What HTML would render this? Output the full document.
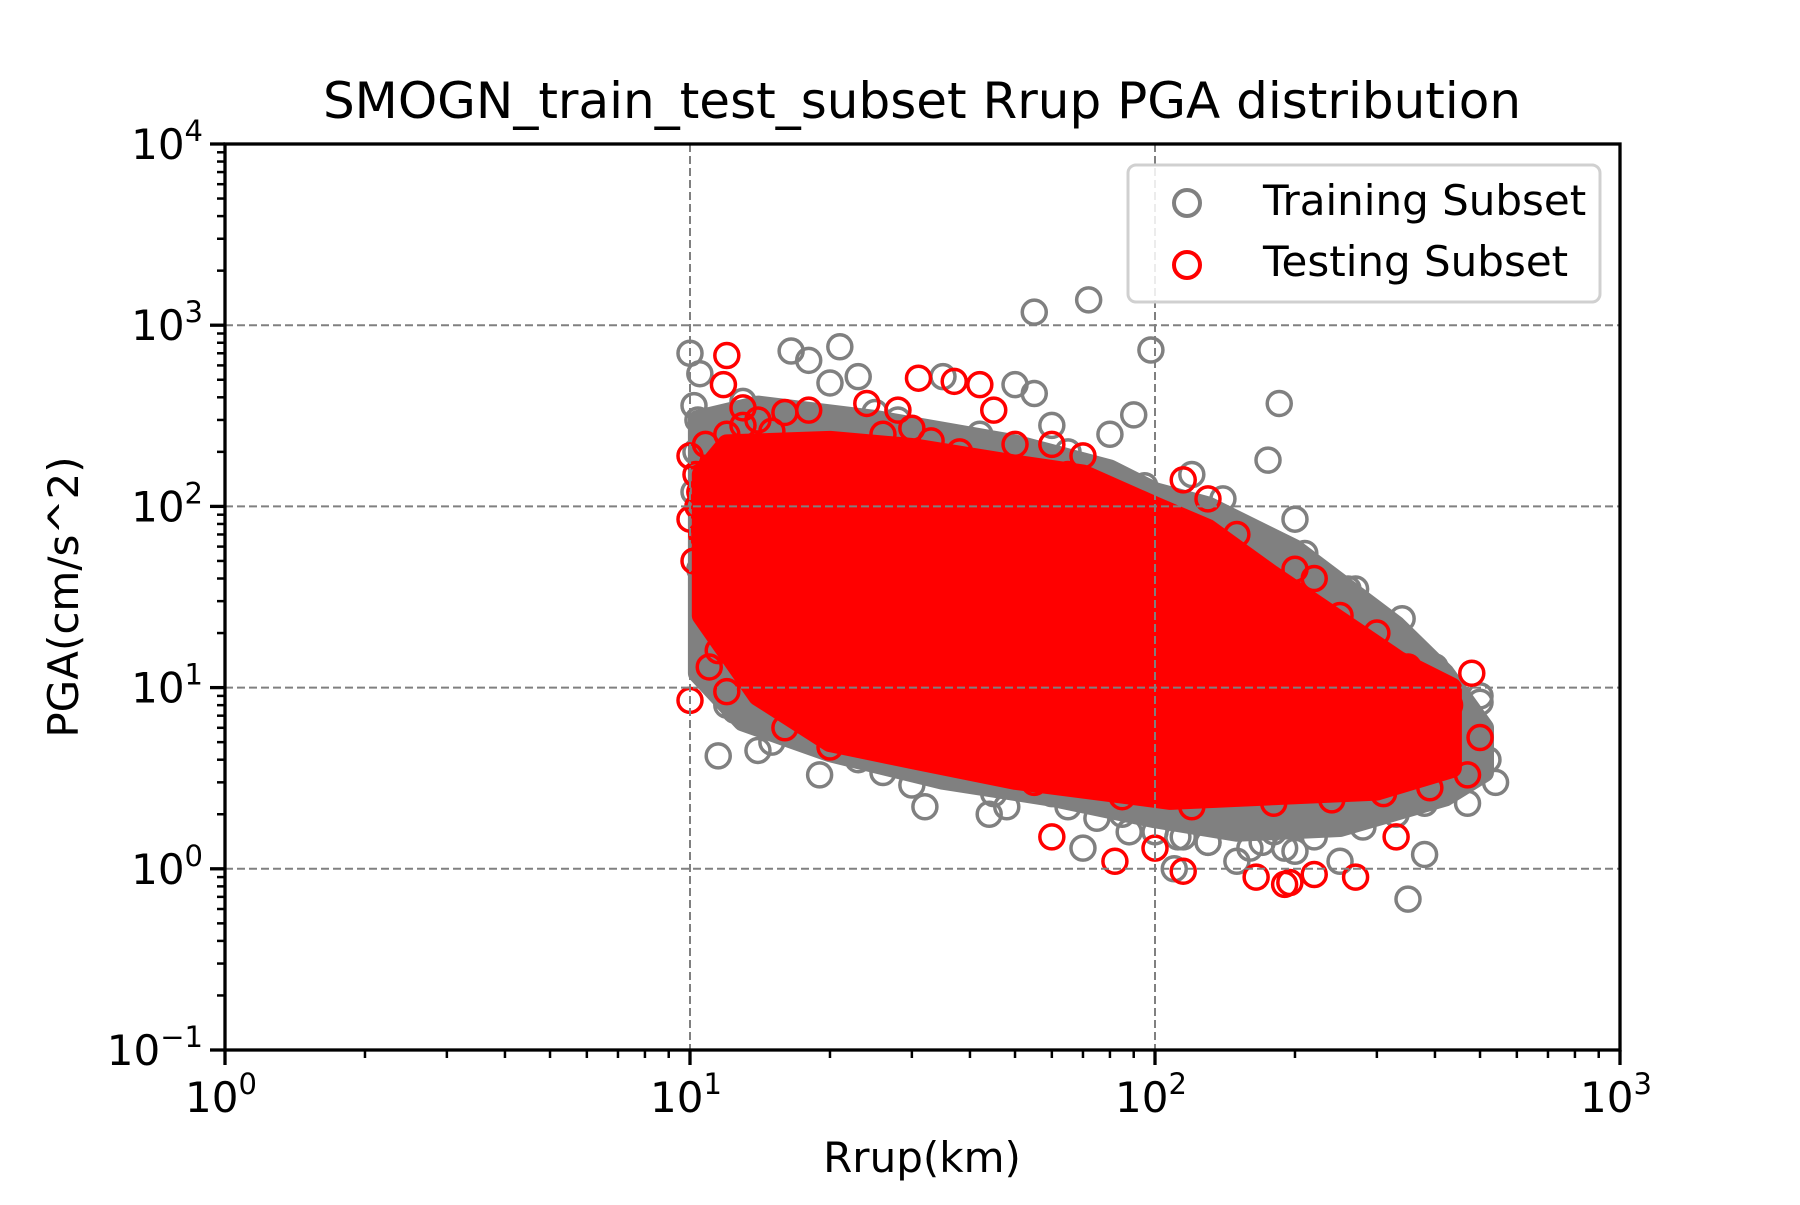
<!DOCTYPE html>
<html><head><meta charset="utf-8"><style>
html,body{margin:0;padding:0;background:#fff;}
svg text{font-family:"DejaVu Sans","Liberation Sans",sans-serif;}
</style></head><body>
<svg id="chart" width="1800" height="1200" viewBox="0 0 1800 1200" xmlns="http://www.w3.org/2000/svg">
<rect width="1800" height="1200" fill="#fff"/>
<g id="grid"></g>
<g id="hulls"></g>
<g id="pts"></g>
<g id="axes"></g>
<text x="922" y="118" font-size="50" text-anchor="middle">SMOGN_train_test_subset Rrup PGA distribution</text>
<text x="922" y="1172" font-size="42" text-anchor="middle">Rrup(km)</text>
<text transform="translate(78,597) rotate(-90)" font-size="42" text-anchor="middle">PGA(cm/s^2)</text>
<g>
<rect x="1128" y="165" width="472" height="137" rx="8" fill="#fff" fill-opacity="0.85" stroke="#d0d0d0" stroke-width="3"/>
<circle cx="1187" cy="203" r="13" fill="none" stroke="#808080" stroke-width="4"/>
<text x="1263" y="215" font-size="42">Training Subset</text>
<circle cx="1187" cy="265" r="13" fill="none" stroke="#ff0000" stroke-width="4"/>
<text x="1263" y="276" font-size="42">Testing Subset</text>
</g>
</svg>
<script>
const xTicks=[0,1,2,3];
const yTicks=[-1,0,1,2,3,4];
const xTickLabels=["0","1","2","3"];
const yTickLabels=["\u22121","0","1","2","3","4"];
// dense-core envelopes [Rrup km, PGA cm/s^2]
const trainHull=[[10.4,300],[14,360],[25,300],[50,220],[80,160],[100,120],[130,100],[200,58],[330,22],[420,12],[510,6],[510,3.4],[420,2.5],[250,1.7],[150,1.6],[100,1.9],[60,2.5],[35,3.1],[20,4.4],[13,6.5],[10.4,12]];
const testHull=[[10.6,150],[12,220],[20,230],[30,210],[50,170],[70,150],[100,100],[130,75],[178,42],[335,14],[435,10],[435,3.6],[300,2.7],[108,2.4],[50,3.1],[30.5,4],[20,5],[14,9],[10.6,25]];
const trainRrup=[10,10.5,16.5,18,21,20,23,55,72,98,90,185,175,200,11.5,14,19,32,44,70,110,150,200,250,350,380,540,520,500,470,400,340,270,12,11,10.5,50,55,35,28,120,140,60,80,15,23,26,38,48,60,88,130,170,300,450,420,230,160,10.2,10.4,13,25,42,65,95,125,210,260,320,360,440,480,12.5,16,30,75,112,180,10.2,10.3,10.5,11,12,13,15,17,19,22,27,33,45,65,85,100,115,130,160,190,220,280,330,380,430,460,500];
const trainPga=[700,540,720,640,760,480,520,1180,1380,730,320,370,180,85,4.2,4.5,3.3,2.2,2.0,1.3,1.0,1.1,1.25,1.1,0.68,1.2,3.0,4.0,8.3,2.3,13,24,35,8,15,45,470,420,520,300,150,110,280,250,5,4,3.4,3.3,2.2,2.6,1.6,1.4,1.4,2.5,6,11,30,60,120,300,380,330,250,200,130,90,55,35,18,10,7,4.5,7.5,6.5,2.9,1.9,1.5,1.6,360,200,100,60,30,20,10,8,6,5,4.2,3.5,2.6,2.2,2.0,1.6,1.5,1.4,1.3,1.3,1.5,1.7,2.0,2.3,3.2,5,9];
const testRrup=[12,11.8,31,37,42,45,28,24,10,10,10.2,10,11,12,11.5,11.5,16,20,60,82,100,115,165,190,195,220,270,330,390,470,480,500,430,115,130,220,300,18,13,16,14,38,60,70,65,50,24,30,150,250,350,10.5,11,12.5,14.5,17,22,35,55,85,120,180,240,310,380,420,26,33,47,70,95,140,200,280,10.3,10.4,10.6,11,11.5,12,12.5,13,13.5,14,15,16,17,18,19,10.8,11.3,12.2,13.2,14.2,15.5,16.5,17.5,19,20,12,13,14,15];
const testPga=[680,470,510,490,470,340,340,370,190,85,50,8.5,13,9.5,16,27,6,4.7,1.5,1.1,1.3,0.97,0.9,0.82,0.84,0.93,0.9,1.5,2.8,3.3,12,5.3,8,140,110,40,20,340,350,330,200,200,220,190,150,220,140,270,70,25,13,120,60,30,15,9,5.5,4,3,2.5,2.2,2.3,2.4,2.6,3.5,6,250,230,160,110,80,60,45,18,150,100,70,40,25,18,60,120,200,90,45,30,20,12,9,220,160,130,80,50,35,25,170,110,70,250,280,300,260];

const L=225,R=1620,T=144,B=1050;
const xMin=0,xMax=3,yMin=-1,yMax=4;
function xs(v){return L+(Math.log10(v)-xMin)/(xMax-xMin)*(R-L);}
function ys(v){return B-(Math.log10(v)-yMin)/(yMax-yMin)*(B-T);}
function xsl(e){return L+(e-xMin)/(xMax-xMin)*(R-L);}
function ysl(e){return B-(e-yMin)/(yMax-yMin)*(B-T);}
const NS="http://www.w3.org/2000/svg";
function mk(tag,attrs,parent){const el=document.createElementNS(NS,tag);for(const k in attrs)el.setAttribute(k,attrs[k]);parent.appendChild(el);return el;}
const grid=document.getElementById('grid'),axes=document.getElementById('axes'),hulls=document.getElementById('hulls'),pts=document.getElementById('pts');
function hullPath(h){return h.map((p,i)=>(i?'L':'M')+xs(p[0]).toFixed(1)+','+ys(p[1]).toFixed(1)).join('')+'Z';}
const th=mk('path',{d:hullPath(trainHull),fill:'#808080',stroke:'#808080','stroke-width':20,'stroke-linejoin':'round'},hulls);


trainRrup.forEach((x,i)=>{const c=mk('circle',{cx:xs(x),cy:ys(trainPga[i]),r:12,fill:'none',stroke:'#808080','stroke-width':3.5},pts);

});
const rh=mk('path',{d:hullPath(testHull),fill:'#ff0000',stroke:'#ff0000','stroke-width':20,'stroke-linejoin':'round'},pts);


testRrup.forEach((x,i)=>{const c=mk('circle',{cx:xs(x),cy:ys(testPga[i]),r:12,fill:'none',stroke:'#ff0000','stroke-width':3.5},pts);

});
xTicks.forEach(e=>{if(e>xMin&&e<xMax){const g=mk('line',{x1:xsl(e),x2:xsl(e),y1:T,y2:B,stroke:'#808080','stroke-width':2,'stroke-dasharray':'8,4'},grid);

}});
yTicks.forEach(e=>{if(e>yMin&&e<yMax){const g=mk('line',{x1:L,x2:R,y1:ysl(e),y2:ysl(e),stroke:'#808080','stroke-width':2,'stroke-dasharray':'8,4'},grid);

}});
document.getElementById('chart').insertBefore(grid,axes);
const frame=mk('rect',{x:L,y:T,width:R-L,height:B-T,fill:'none',stroke:'#000','stroke-width':3.3},axes);


xTicks.forEach((e,i)=>{const x=xsl(e);mk('line',{x1:x,x2:x,y1:B,y2:B+15,stroke:'#000','stroke-width':3.3},axes);
const t=mk('text',{x:x-4,y:1112,'font-size':42,'text-anchor':'middle'},axes);


t.textContent='10';const s=mk('tspan',{dy:-18,'font-size':29},t);s.textContent=xTickLabels[i];
if(e<xMax)for(let m=2;m<10;m++){const xm=xsl(e+Math.log10(m));mk('line',{x1:xm,x2:xm,y1:B,y2:B+8,stroke:'#000','stroke-width':2.5},axes);}});
yTicks.forEach((e,i)=>{const y=ysl(e);mk('line',{x1:L-15,x2:L,y1:y,y2:y,stroke:'#000','stroke-width':3.3},axes);
const t=mk('text',{x:L-22,y:y+15,'font-size':42,'text-anchor':'end'},axes);


t.textContent='10';const s=mk('tspan',{dy:-18,'font-size':29},t);s.textContent=yTickLabels[i];
if(e<yMax)for(let m=2;m<10;m++){const ym=ysl(e+Math.log10(m));mk('line',{x1:L-8,x2:L,y1:ym,y2:ym,stroke:'#000','stroke-width':2.5},axes);}});
</script>
</body></html>
